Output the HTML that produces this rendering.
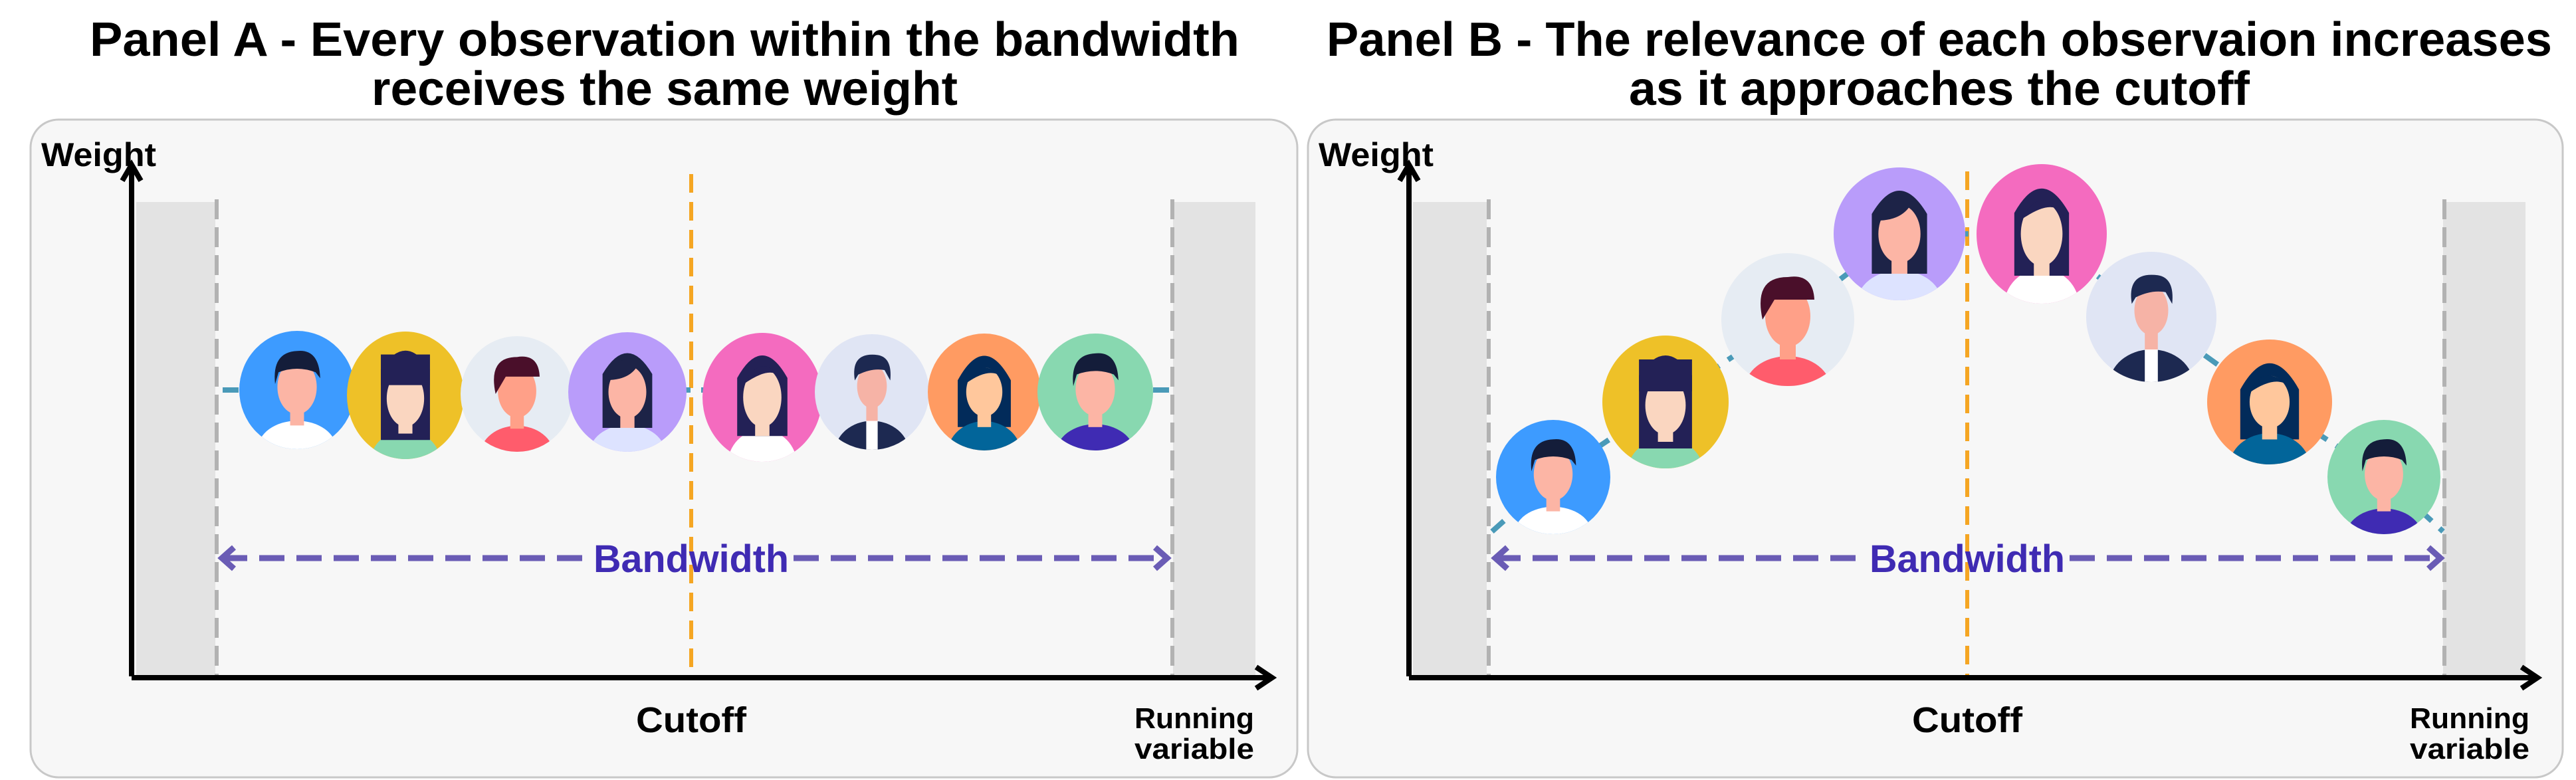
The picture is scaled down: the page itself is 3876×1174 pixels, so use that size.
<!DOCTYPE html>
<html><head><meta charset="utf-8"><style>
html,body{margin:0;padding:0;background:#fff;width:3876px;height:1174px;overflow:hidden}
svg{display:block}
text{font-family:"Liberation Sans",sans-serif;font-weight:bold}
</style></head><body>
<svg width="3876" height="1174" viewBox="0 0 3876 1174" xmlns="http://www.w3.org/2000/svg">
<defs>
<clipPath id="cc"><circle cx="0" cy="0" r="100"/></clipPath>
</defs>
<rect width="3876" height="1174" fill="#fff"/>
<!-- titles -->
<text x="1000" y="84" font-size="72" text-anchor="middle" fill="#000" textLength="1730" lengthAdjust="spacingAndGlyphs">Panel A - Every observation within the bandwidth</text>
<text x="1000" y="158" font-size="72" text-anchor="middle" fill="#000" textLength="882" lengthAdjust="spacingAndGlyphs">receives the same weight</text>
<text x="2918" y="84" font-size="72" text-anchor="middle" fill="#000" textLength="1844" lengthAdjust="spacingAndGlyphs">Panel B - The relevance of each observaion increases</text>
<text x="2918" y="158" font-size="72" text-anchor="middle" fill="#000" textLength="934" lengthAdjust="spacingAndGlyphs">as it approaches the cutoff</text>

<!-- panel boxes -->
<rect x="46" y="180" width="1906" height="990" rx="42" fill="#f7f7f7" stroke="#c8c8c8" stroke-width="3"/>
<rect x="1968" y="180" width="1888" height="990" rx="42" fill="#f7f7f7" stroke="#c8c8c8" stroke-width="3"/>

<!-- PANEL A -->
<rect x="205" y="304" width="119" height="714" fill="#e3e3e3"/>
<rect x="1765" y="304" width="124" height="714" fill="#e3e3e3"/>
<line x1="326" y1="300" x2="326" y2="1018" stroke="#b2b2b2" stroke-width="6" stroke-dasharray="30 12"/>
<line x1="1764" y1="300" x2="1764" y2="1018" stroke="#b2b2b2" stroke-width="6" stroke-dasharray="30 12"/>
<line x1="1040" y1="262" x2="1040" y2="1018" stroke="#f5a623" stroke-width="6" stroke-dasharray="28 14"/>
<line x1="335" y1="587" x2="1760" y2="587" stroke="#4a9ab8" stroke-width="8" stroke-dasharray="24 16"/>
<path d="M198 1018 V250 M184 272 L198 248 L212 272" fill="none" stroke="#000" stroke-width="8"/>
<path d="M198 1020 H1912 M1890 1004 L1914 1020 L1890 1036" fill="none" stroke="#000" stroke-width="8"/>
<path d="M334 840 H886 M1194 840 H1756" stroke="#6a5cb5" stroke-width="9" stroke-dasharray="38 18" fill="none"/>
<path d="M352 824 L334 840 L352 856 M1738 824 L1756 840 L1738 856" stroke="#6a5cb5" stroke-width="9" fill="none"/>
<text x="1040" y="861" font-size="58" text-anchor="middle" fill="#3f2bb3" textLength="294" lengthAdjust="spacingAndGlyphs">Bandwidth</text>
<text x="62" y="250" font-size="50" fill="#000" textLength="173" lengthAdjust="spacingAndGlyphs">Weight</text>
<text x="1040" y="1102" font-size="54" text-anchor="middle" fill="#000" textLength="166" lengthAdjust="spacingAndGlyphs">Cutoff</text>
<text x="1797" y="1096" font-size="44" text-anchor="middle" fill="#000" textLength="180" lengthAdjust="spacingAndGlyphs">Running</text>
<text x="1797" y="1142" font-size="44" text-anchor="middle" fill="#000" textLength="180" lengthAdjust="spacingAndGlyphs">variable</text>

<!-- PANEL B -->
<rect x="2126" y="304" width="111" height="714" fill="#e3e3e3"/>
<rect x="3676" y="304" width="124" height="714" fill="#e3e3e3"/>
<line x1="2240" y1="300" x2="2240" y2="1018" stroke="#b2b2b2" stroke-width="6" stroke-dasharray="30 12"/>
<line x1="3678" y1="300" x2="3678" y2="1018" stroke="#b2b2b2" stroke-width="6" stroke-dasharray="30 12"/>
<line x1="2960" y1="258" x2="2960" y2="1018" stroke="#f5a623" stroke-width="6" stroke-dasharray="28 14"/>
<polyline points="2245,800 2337,718 2506,605 2690,481 2858,352 3072,352 3237,477 3415,605 3587,718 3676,800" fill="none" stroke="#4a9ab8" stroke-width="8" stroke-dasharray="24 16"/>
<path d="M2120 1018 V250 M2106 272 L2120 248 L2134 272" fill="none" stroke="#000" stroke-width="8"/>
<path d="M2120 1020 H3816 M3794 1004 L3818 1020 L3794 1036" fill="none" stroke="#000" stroke-width="8"/>
<path d="M2250 840 H2806 M3114 840 H3672" stroke="#6a5cb5" stroke-width="9" stroke-dasharray="38 18" fill="none"/>
<path d="M2268 824 L2250 840 L2268 856 M3654 824 L3672 840 L3654 856" stroke="#6a5cb5" stroke-width="9" fill="none"/>
<text x="2960" y="861" font-size="58" text-anchor="middle" fill="#3f2bb3" textLength="294" lengthAdjust="spacingAndGlyphs">Bandwidth</text>
<text x="1984" y="250" font-size="50" fill="#000" textLength="173" lengthAdjust="spacingAndGlyphs">Weight</text>
<text x="2960" y="1102" font-size="54" text-anchor="middle" fill="#000" textLength="166" lengthAdjust="spacingAndGlyphs">Cutoff</text>
<text x="3716" y="1096" font-size="44" text-anchor="middle" fill="#000" textLength="180" lengthAdjust="spacingAndGlyphs">Running</text>
<text x="3716" y="1142" font-size="44" text-anchor="middle" fill="#000" textLength="180" lengthAdjust="spacingAndGlyphs">variable</text>

<!-- avatar symbols -->
<defs>
<g id="av1"><circle r="100" fill="#3d9bff"/><g clip-path="url(#cc)"><ellipse cx="0" cy="100" rx="68" ry="48" fill="#fff"/></g><rect x="-12" y="20" width="24" height="40" fill="#fcb5a5"/><ellipse cx="0" cy="-5" rx="34" ry="46" fill="#fcb5a5"/><path d="M-38 -10 Q-44 -64 0 -66 Q38 -70 40 -20 L32 -30 Q0 -42 -32 -30 Z" fill="#141d3a"/></g>
<g id="av2"><circle r="100" fill="#eec128"/><g clip-path="url(#cc)"><ellipse cx="0" cy="105" rx="60" ry="50" fill="#88d8b0"/></g><path d="M-42 70 V-40 Q0 -100 42 -40 V70 Z" fill="#232156"/><rect x="-12" y="20" width="24" height="40" fill="#fad6c0"/><ellipse cx="0" cy="5" rx="32" ry="44" fill="#fad6c0"/><rect x="-42" y="-64" width="84" height="48" fill="#232156"/></g>
<g id="av3"><circle r="100" fill="#e6ecf3"/><g clip-path="url(#cc)"><ellipse cx="0" cy="105" rx="65" ry="50" fill="#ff5c6c"/></g><rect x="-12" y="20" width="24" height="40" fill="#ffa088"/><ellipse cx="0" cy="-5" rx="34" ry="46" fill="#ffa088"/><path d="M-38 0 Q-52 -64 0 -64 Q38 -70 40 -30 L-20 -30 Z" fill="#4a0f2a"/></g>
<g id="av4"><circle r="100" fill="#b99cfa"/><g clip-path="url(#cc)"><ellipse cx="0" cy="105" rx="65" ry="50" fill="#dde3ff"/></g><path d="M-42 60 V-30 Q0 -100 42 -30 V60 Z" fill="#1d2347"/><rect x="-12" y="20" width="24" height="40" fill="#fcb5a5"/><ellipse cx="0" cy="0" rx="32" ry="44" fill="#fcb5a5"/><path d="M-34 -20 Q-20 -64 22 -54 Q10 -20 -34 -20 Z" fill="#1d2347"/></g>
<g id="av5"><circle r="100" fill="#f46bbf"/><g clip-path="url(#cc)"><ellipse cx="0" cy="105" rx="58" ry="55" fill="#fff"/></g><path d="M-42 60 V-30 Q0 -100 42 -30 V60 Z" fill="#232156"/><rect x="-12" y="20" width="24" height="40" fill="#fad6c0"/><ellipse cx="0" cy="0" rx="32" ry="46" fill="#fad6c0"/><path d="M-32 -20 Q0 -74 34 -25 Q20 -54 -32 -20 Z" fill="#232156"/></g>
<g id="av6"><circle r="100" fill="#e0e5f4"/><g clip-path="url(#cc)"><ellipse cx="0" cy="105" rx="65" ry="55" fill="#1d2951"/><rect x="-10" y="50" width="20" height="60" fill="#fff"/></g><rect x="-10" y="10" width="20" height="40" fill="#f6b3a6"/><ellipse cx="0" cy="-10" rx="26" ry="38" fill="#f6b3a6"/><path d="M-30 -20 Q-38 -70 10 -64 Q36 -60 32 -20 L22 -38 Q0 -42 -24 -30 Z" fill="#1d2951"/></g>
<g id="av7"><circle r="100" fill="#ff9b62"/><path d="M-47 60 V-20 Q0 -104 47 -20 V60 Z" fill="#022b5a"/><g clip-path="url(#cc)"><ellipse cx="0" cy="105" rx="65" ry="55" fill="#02659a"/></g><rect x="-12" y="20" width="24" height="40" fill="#ffc79c"/><ellipse cx="0" cy="0" rx="32" ry="42" fill="#ffc79c"/><path d="M-32 -15 Q-10 -64 32 -25 Q10 -44 -32 -15 Z" fill="#022b5a"/></g>
<g id="av8"><circle r="100" fill="#88d8b0"/><g clip-path="url(#cc)"><ellipse cx="0" cy="105" rx="68" ry="50" fill="#3f2bb3"/></g><rect x="-12" y="20" width="24" height="40" fill="#fcb5a5"/><ellipse cx="0" cy="-5" rx="34" ry="46" fill="#fcb5a5"/><path d="M-38 -10 Q-44 -64 0 -66 Q38 -70 40 -20 L32 -30 Q0 -42 -32 -30 Z" fill="#141d3a"/></g>
</defs>

<!-- Panel A avatars -->
<use href="#av1" transform="translate(447,587) scale(0.87,0.89)"/>
<use href="#av2" transform="translate(610,595) scale(0.88,0.96)"/>
<use href="#av3" transform="translate(778,593) scale(0.85,0.87)"/>
<use href="#av4" transform="translate(944,590) scale(0.89,0.9)"/>
<use href="#av5" transform="translate(1147,598) scale(0.9,0.97)"/>
<use href="#av6" transform="translate(1312,590) scale(0.86,0.87)"/>
<use href="#av7" transform="translate(1481,590) scale(0.85,0.88)"/>
<use href="#av8" transform="translate(1648,590) scale(0.87,0.88)"/>

<!-- Panel B avatars -->
<use href="#av1" transform="translate(2337,718) scale(0.86,0.86)"/>
<use href="#av2" transform="translate(2506,605) scale(0.95,1.0)"/>
<use href="#av3" transform="translate(2690,481) scale(1.0,1.0)"/>
<use href="#av4" transform="translate(2858,352) scale(0.99,1.0)"/>
<use href="#av5" transform="translate(3072,352) scale(0.98,1.05)"/>
<use href="#av6" transform="translate(3237,477) scale(0.98,0.98)"/>
<use href="#av7" transform="translate(3415,605) scale(0.94,0.94)"/>
<use href="#av8" transform="translate(3587,718) scale(0.85,0.86)"/>
</svg>
</body></html>
